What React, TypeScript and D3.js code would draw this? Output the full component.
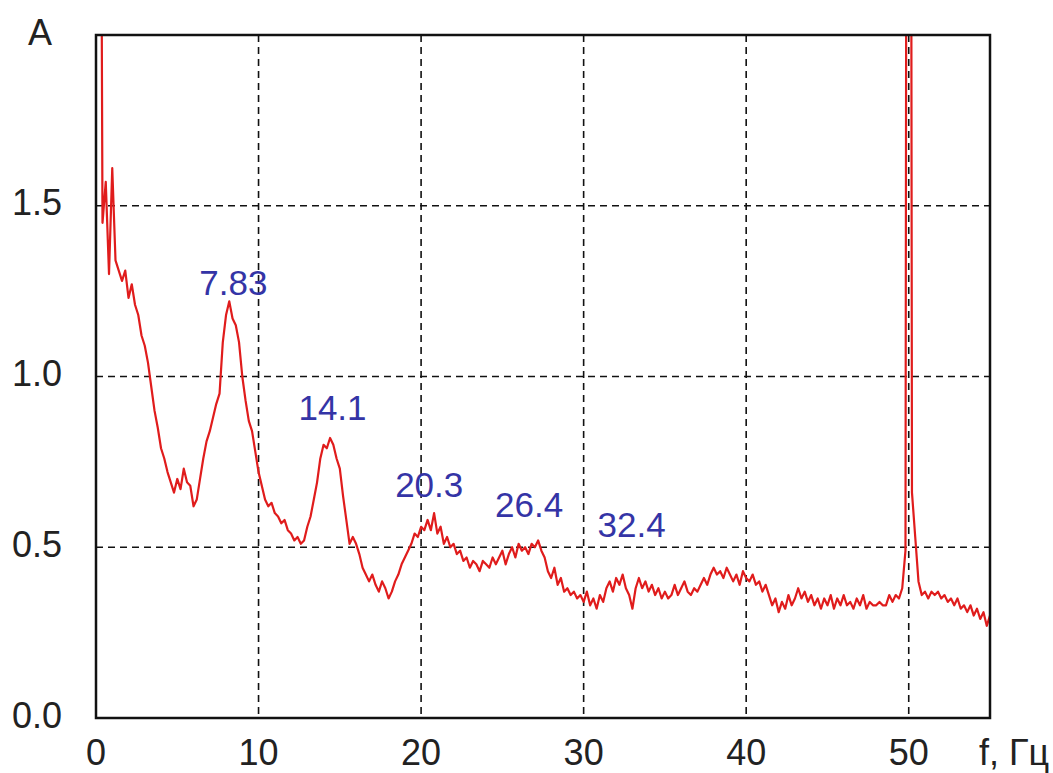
import * as d3 from "d3";
import { useEffect } from "react";

// amplitude spectrum, sampled every 0.2 Hz from 0 to 55 Hz
const STEP = 0.2;
const amps = [
  4.0, 4.0, 1.45, 1.57, 1.30, 1.61, 1.34, 1.31, 1.28, 1.31,
  1.23, 1.27, 1.21, 1.18, 1.12, 1.09, 1.04, 0.97, 0.90, 0.85,
  0.79, 0.76, 0.72, 0.69, 0.66, 0.70, 0.67, 0.73, 0.69, 0.68,
  0.62, 0.64, 0.70, 0.76, 0.81, 0.84, 0.88, 0.92, 0.95, 1.10,
  1.18, 1.22, 1.17, 1.15, 1.10, 1.00, 0.93, 0.87, 0.84, 0.78,
  0.72, 0.68, 0.64, 0.62, 0.63, 0.60, 0.59, 0.57, 0.58, 0.55,
  0.54, 0.52, 0.53, 0.51, 0.52, 0.56, 0.59, 0.64, 0.69, 0.76,
  0.80, 0.79, 0.82, 0.80, 0.76, 0.73, 0.65, 0.58, 0.51, 0.53,
  0.51, 0.48, 0.44, 0.42, 0.40, 0.42, 0.39, 0.37, 0.40, 0.38,
  0.35, 0.37, 0.40, 0.42, 0.45, 0.47, 0.49, 0.51, 0.54, 0.53,
  0.56, 0.55, 0.58, 0.55, 0.60, 0.54, 0.56, 0.51, 0.53, 0.50,
  0.51, 0.48, 0.49, 0.46, 0.47, 0.44, 0.46, 0.45, 0.43, 0.46,
  0.45, 0.44, 0.47, 0.45, 0.47, 0.49, 0.45, 0.48, 0.50, 0.47,
  0.51, 0.49, 0.50, 0.48, 0.51, 0.50, 0.52, 0.49, 0.47, 0.43,
  0.41, 0.44, 0.39, 0.41, 0.37, 0.38, 0.36, 0.37, 0.35, 0.36,
  0.34, 0.37, 0.33, 0.35, 0.32, 0.36, 0.34, 0.38, 0.40, 0.37,
  0.41, 0.39, 0.42, 0.38, 0.36, 0.32, 0.38, 0.41, 0.38, 0.40,
  0.37, 0.39, 0.36, 0.38, 0.35, 0.37, 0.35, 0.36, 0.39, 0.36,
  0.38, 0.40, 0.37, 0.36, 0.38, 0.37, 0.39, 0.41, 0.39, 0.42,
  0.44, 0.42, 0.43, 0.41, 0.44, 0.42, 0.40, 0.42, 0.39, 0.43,
  0.41, 0.40, 0.42, 0.39, 0.40, 0.37, 0.39, 0.36, 0.33, 0.35,
  0.31, 0.34, 0.32, 0.36, 0.33, 0.35, 0.38, 0.35, 0.37, 0.34,
  0.36, 0.33, 0.35, 0.32, 0.35, 0.33, 0.36, 0.32, 0.35, 0.33,
  0.36, 0.33, 0.34, 0.32, 0.35, 0.33, 0.36, 0.32, 0.34, 0.33,
  0.33, 0.34, 0.33, 0.33, 0.36, 0.34, 0.36, 0.35, 0.38, 0.49,
  8.0, 0.66, 0.53, 0.40, 0.36, 0.37, 0.35, 0.37, 0.36, 0.37,
  0.35, 0.36, 0.34, 0.35, 0.33, 0.35, 0.32, 0.33, 0.31, 0.33,
  0.30, 0.32, 0.29, 0.31, 0.27, 0.30,
];
const freqs = amps.map((_, i) => +(i * STEP).toFixed(1));

const xTicks = [0, 10, 20, 30, 40, 50];
const yTicks = [0, 0.5, 1.0, 1.5];

// Schumann resonance labels and where they sit (Hz, A)
const peakLabels = ["7.83", "14.1", "20.3", "26.4", "32.4"];
const peakLabelF = [8.45, 14.55, 20.5, 26.65, 32.95];
const peakLabelA = [1.24, 0.874, 0.648, 0.589, 0.531];

const W = 1053;
const H = 773;
const margin = { top: 35, right: 63, bottom: 55, left: 96 };
const FONT = "'Liberation Sans', Arial, sans-serif";

export default function App() {
  useEffect(() => {
    document.body.style.margin = "0";
  }, []);

  const x = d3.scaleLinear().domain([0, 55]).range([margin.left, W - margin.right]);
  const y = d3.scaleLinear().domain([0, 2]).range([H - margin.bottom, margin.top]);

  const line = d3
    .line<number>()
    .x((_, i) => x(freqs[i]))
    .y((d) => y(d));

  const fmt = d3.format(".1f");
  const [x0, x1] = x.range();
  const [y0, y1] = y.range();

  return (
    <svg width={W} height={H} style={{ display: "block", background: "#fff" }}>
      <defs>
        <clipPath id="plot">
          <rect x={x0} y={y1} width={x1 - x0} height={y0 - y1} />
        </clipPath>
      </defs>

      <g stroke="#111" strokeWidth={1.6} strokeDasharray="7,5">
        {xTicks.filter((t) => t > 0).map((t) => (
          <line key={"gx" + t} x1={x(t)} x2={x(t)} y1={y1} y2={y0} />
        ))}
        {yTicks.filter((t) => t > 0).map((t) => (
          <line key={"gy" + t} x1={x0} x2={x1} y1={y(t)} y2={y(t)} />
        ))}
      </g>

      <path
        d={line(amps) ?? ""}
        fill="none"
        stroke="#e01c1c"
        strokeWidth={2.2}
        strokeLinejoin="round"
        clipPath="url(#plot)"
      />

      <rect x={x0} y={y1} width={x1 - x0} height={y0 - y1} fill="none" stroke="#111" strokeWidth={2.5} />

      <g fontFamily={FONT} fontSize={36} fill="#222">
        {yTicks.map((t) => (
          <text key={"ty" + t} x={62} y={y(t)} textAnchor="end" dominantBaseline="middle">
            {fmt(t)}
          </text>
        ))}
        {xTicks.map((t) => (
          <text key={"tx" + t} x={x(t)} y={765} textAnchor="middle">
            {t}
          </text>
        ))}
        <text x={1049} y={765} textAnchor="end">f, Гц</text>
        <text x={28} y={45}>A</text>
      </g>

      <g fontFamily={FONT} fontSize={35} fill="#3434a6" textAnchor="middle">
        {peakLabels.map((l, i) => (
          <text key={l} x={x(peakLabelF[i])} y={y(peakLabelA[i])}>
            {l}
          </text>
        ))}
      </g>
    </svg>
  );
}
